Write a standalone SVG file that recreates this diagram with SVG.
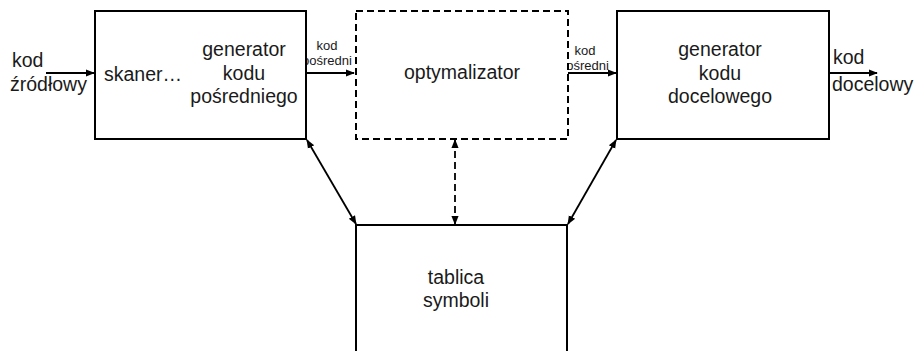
<svg xmlns="http://www.w3.org/2000/svg" width="920" height="351" viewBox="0 0 920 351">
<style>
.box{fill:#fff;stroke:#000;stroke-width:2}
.dash{stroke-dasharray:7,4}
.ln{stroke:#000;stroke-width:1.8;fill:none}
text{font-family:"Liberation Sans",Arial,sans-serif;fill:#1a1a1a}
.t{font-size:19.5px}
.s{font-size:13px}
.m{text-anchor:middle}
</style>
<defs>
<marker id="ah" viewBox="0 0 10 10" refX="9" refY="5" markerWidth="5" markerHeight="5" orient="auto-start-reverse" markerUnits="strokeWidth">
<path d="M0,1 L10,5 L0,9 z" fill="#000"/>
</marker>
</defs>
<rect width="920" height="351" fill="#fff"/>
<g id="connectors">
<line class="ln" x1="46" y1="73" x2="94" y2="73" marker-end="url(#ah)"/>
<line class="ln" x1="306" y1="73" x2="354" y2="73" marker-end="url(#ah)"/>
<line class="ln" x1="568" y1="73" x2="616" y2="73" marker-end="url(#ah)"/>
<line class="ln" x1="829" y1="73" x2="877" y2="73" marker-end="url(#ah)"/>
<line class="ln" x1="307" y1="140" x2="356" y2="224" marker-start="url(#ah)" marker-end="url(#ah)"/>
<line class="ln" x1="616" y1="140" x2="568" y2="224" marker-start="url(#ah)" marker-end="url(#ah)"/>
<line class="ln dash" x1="455" y1="140" x2="455" y2="224" marker-start="url(#ah)" marker-end="url(#ah)"/>
<text class="t" x="12" y="67">kod</text>
<text class="t" x="10" y="91">źródłowy</text>
<text class="s m" x="327" y="50">kod</text>
<text class="s m" x="327" y="65">pośredni</text>
<text class="s m" x="585" y="55">kod</text>
<text class="s m" x="584" y="70">pośredni</text>
<text class="t" x="833" y="64">kod</text>
<text class="t" x="832" y="91">docelowy</text>
</g>
<g id="skaner">
<rect class="box" x="95" y="11" width="211" height="128"/>
<text class="t" x="104" y="81">skaner…</text>
<text class="t m" x="244" y="56">generator</text>
<text class="t m" x="244" y="80">kodu</text>
<text class="t m" x="244" y="103">pośredniego</text>
</g>
<g id="optymalizator">
<rect class="box dash" x="356" y="11" width="212" height="128"/>
<text class="t m" x="462" y="79">optymalizator</text>
</g>
<g id="generator-docelowy">
<rect class="box" x="617" y="11" width="212" height="128"/>
<text class="t m" x="720" y="56">generator</text>
<text class="t m" x="720" y="80">kodu</text>
<text class="t m" x="720" y="103">docelowego</text>
</g>
<g id="tablica">
<rect class="box" x="356" y="225" width="211" height="140"/>
<text class="t m" x="456" y="284">tablica</text>
<text class="t m" x="456" y="307">symboli</text>
</g>
</svg>
